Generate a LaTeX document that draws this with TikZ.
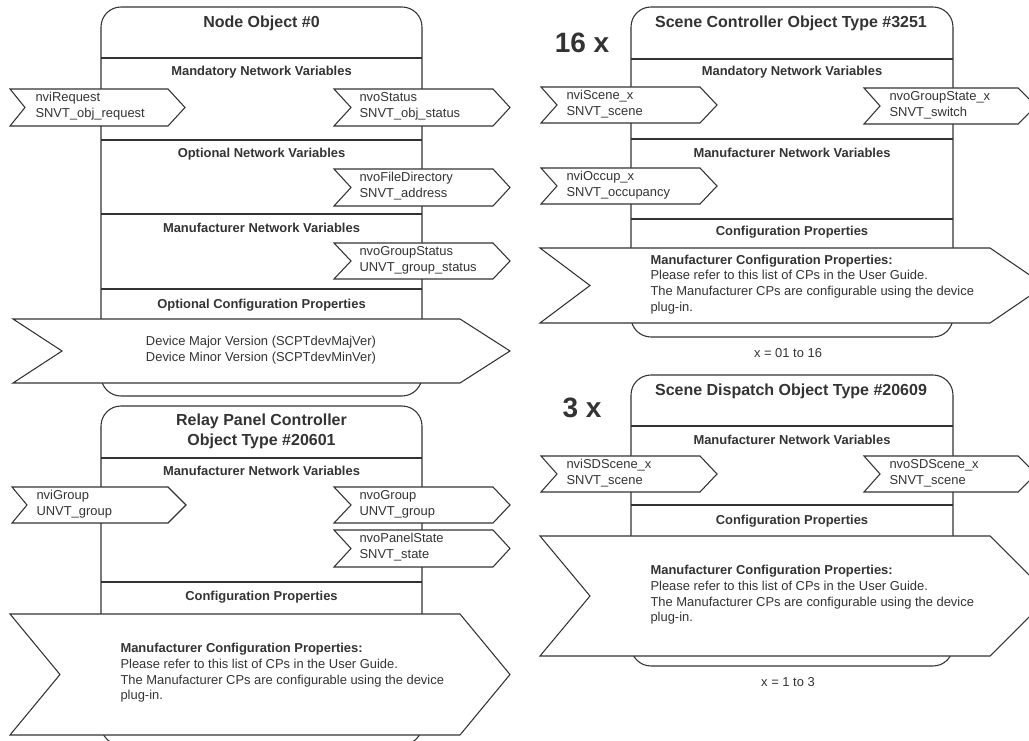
\documentclass[tikz,border=0pt]{standalone}
\usepackage{fontspec}
\setmainfont{Liberation Sans}
\usepackage{tikz}

\begin{document}
\begin{tikzpicture}[x=0.75pt,y=-0.75pt,line width=0.8pt,color=black!80,
    objbox/.style={rounded corners=15pt},
    chev/.style={fill=white,line join=miter},
    head/.style={font=\fontsize{9.7}{11.8}\selectfont\bfseries,inner sep=0pt},
    title/.style={font=\fontsize{12}{14.5}\selectfont\bfseries,inner sep=0pt,align=center},
    txt/.style={font=\fontsize{9.7}{11.8}\selectfont,inner sep=0pt,align=left,anchor=west},
    count/.style={font=\fontsize{21}{25}\selectfont\bfseries,inner sep=0pt}]

          \useasboundingbox (0,0) rectangle (1029,741);

          \draw[objbox] (101,7) rectangle (422,396);
          \draw (101,58) -- (422,58);
          \draw (101,140) -- (422,140);
          \draw (101,214) -- (422,214);
          \draw (101,289) -- (422,289);
          \node[title] (nodeobj) at (261.5,23) {Node Object \#0};
          \node[head] (nodemand) at (261.5,72) {Mandatory Network Variables};
          \node[head] (nodeopt) at (261.5,154) {Optional Network Variables};
          \node[head] (nodemanu) at (261.5,228) {Manufacturer Network Variables};
          \node[head] (nodecp) at (261.5,305) {Optional Configuration Properties};

          \draw[chev] (10,89) -- (168,89) -- (185,107.5) -- (168,126) -- (10,126) -- (25,107.5) -- cycle;
          \node[txt] (nvireq) at (35,106) {nviRequest\\SNVT\_obj\_request};
          \draw[chev] (334,89) -- (493,89) -- (510,107.5) -- (493,126) -- (334,126) -- (351,107.5) -- cycle;
          \node[txt] (nvostat) at (359,106) {nvoStatus\\SNVT\_obj\_status};
          \draw[chev] (334,169) -- (493,169) -- (510,187.5) -- (493,206) -- (334,206) -- (351,187.5) -- cycle;
          \node[txt] (nvofile) at (359,186) {nvoFileDirectory\\SNVT\_address};
          \draw[chev] (334,243) -- (493,243) -- (510,261) -- (493,279) -- (334,279) -- (351,261) -- cycle;
          \node[txt] (nvogrpstat) at (359,260) {nvoGroupStatus\\UNVT\_group\_status};
          \draw[chev] (13,319) -- (460,319) -- (510,351) -- (460,383) -- (13,383) -- (62,351) -- cycle;
          \node[txt,anchor=center,align=center] (nodever) at (261,350) {Device Major Version (SCPTdevMajVer)\\Device Minor Version (SCPTdevMinVer)};

          \draw[objbox] (101,406) rectangle (422,745);
          \draw (101,458) -- (422,458);
          \draw (101,582) -- (422,582);
          \node[title] (relayobj) at (261.5,431.5) {Relay Panel Controller\\Object Type \#20601};
          \node[head] (relaymanu) at (261.5,471) {Manufacturer Network Variables};
          \node[head] (relaycp) at (261.5,597) {Configuration Properties};

          \draw[chev] (12,487) -- (168,487) -- (186,505) -- (168,523) -- (12,523) -- (27,505) -- cycle;
          \node[txt] (nvigrp) at (36,504) {nviGroup\\UNVT\_group};
          \draw[chev] (334,487) -- (493,487) -- (510,505) -- (493,523) -- (334,523) -- (351,505) -- cycle;
          \node[txt] (nvogrp) at (359,504) {nvoGroup\\UNVT\_group};
          \draw[chev] (334,530) -- (493,530) -- (510,548.5) -- (493,567) -- (334,567) -- (351,548.5) -- cycle;
          \node[txt] (nvopanel) at (359,547) {nvoPanelState\\SNVT\_state};
          \draw[chev] (10,614) -- (460,614) -- (510,674.5) -- (460,735) -- (10,735) -- (60,674.5) -- cycle;
          \node[txt] (relaymcp) at (120,673) {\textbf{Manufacturer Configuration Properties:}\\Please refer to this list of CPs in the User Guide.\\The Manufacturer CPs are configurable using the device\\plug-in.};

          \draw[objbox] (631,7) rectangle (953,337);
          \draw (631,59) -- (953,59);
          \draw (631,139) -- (953,139);
          \draw (631,219) -- (953,219);
          \node[count] (scenecount) at (582,43) {16 x};
          \node[title] (sceneobj) at (791,23) {Scene Controller Object Type \#3251};
          \node[head] (scenemand) at (792,72) {Mandatory Network Variables};
          \node[head] (scenemanu) at (792,153) {Manufacturer Network Variables};
          \node[head] (scenecp) at (792,232) {Configuration Properties};

          \draw[chev] (541,87) -- (700,87) -- (717,105) -- (700,123) -- (541,123) -- (557,105) -- cycle;
          \node[txt] (nviscene) at (566,104) {nviScene\_x\\SNVT\_scene};
          \draw[chev] (864,88) -- (1018,88) -- (1036,106) -- (1018,124) -- (864,124) -- (880,106) -- cycle;
          \node[txt] (nvogrpstate) at (889,105) {nvoGroupState\_x\\SNVT\_switch};
          \draw[chev] (541,168) -- (700,168) -- (717,186) -- (700,204) -- (541,204) -- (557,186) -- cycle;
          \node[txt] (nvioccup) at (566,185) {nviOccup\_x\\SNVT\_occupancy};
          \draw[chev] (540,248) -- (990,248) -- (1045,285.5) -- (990,323) -- (540,323) -- (590,285.5) -- cycle;
          \node[txt] (scenemcp) at (650,284.5) {\textbf{Manufacturer Configuration Properties:}\\Please refer to this list of CPs in the User Guide.\\The Manufacturer CPs are configurable using the device\\plug-in.};
          \node[txt,anchor=center] (scenerange) at (788,353) {x = 01 to 16};

          \draw[objbox] (631,375) rectangle (953,666);
          \draw (631,426) -- (953,426);
          \draw (631,505) -- (953,505);
          \node[count] (sdcount) at (582,408) {3 x};
          \node[title] (sdobj) at (791,391) {Scene Dispatch Object Type \#20609};
          \node[head] (sdmanu) at (792,440) {Manufacturer Network Variables};
          \node[head] (sdcp) at (792,521) {Configuration Properties};

          \draw[chev] (541,456) -- (700,456) -- (717,474) -- (700,492) -- (541,492) -- (557,474) -- cycle;
          \node[txt] (nvisdscene) at (566,473) {nviSDScene\_x\\SNVT\_scene};
          \draw[chev] (864,456) -- (1018,456) -- (1036,474) -- (1018,492) -- (864,492) -- (880,474) -- cycle;
          \node[txt] (nvosdscene) at (889,473) {nvoSDScene\_x\\SNVT\_scene};
          \draw[chev] (540,536) -- (990,536) -- (1050,596) -- (990,656) -- (540,656) -- (590,596) -- cycle;
          \node[txt] (sdmcp) at (650,595) {\textbf{Manufacturer Configuration Properties:}\\Please refer to this list of CPs in the User Guide.\\The Manufacturer CPs are configurable using the device\\plug-in.};
          \node[txt,anchor=center] (sdrange) at (788,682) {x = 1 to 3};
        \end{tikzpicture}
\end{document}
